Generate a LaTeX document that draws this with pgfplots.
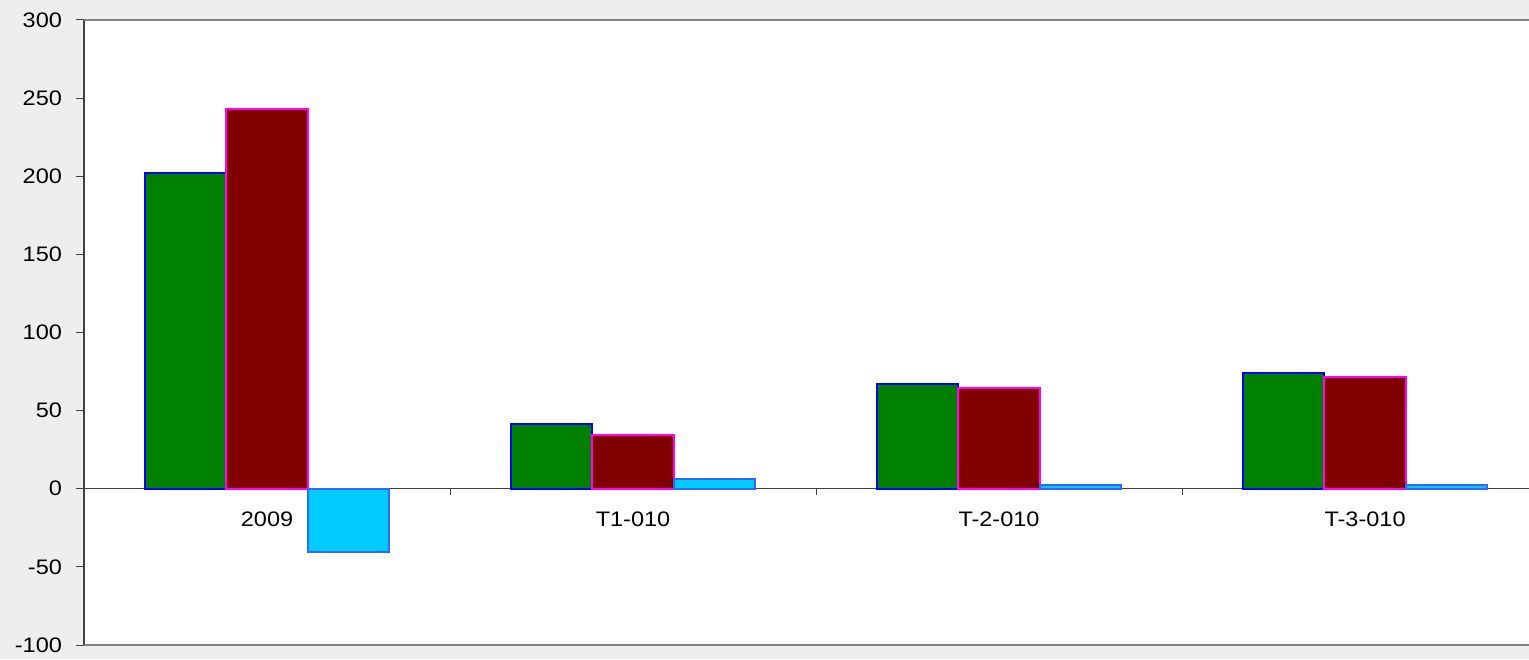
\documentclass[border=0pt]{standalone}
\usepackage{fontspec}
\setmainfont{Liberation Sans}[FakeStretch=1.12]
\usepackage{pgfplots}
\pgfplotsset{compat=1.18}
\definecolor{bg}{HTML}{EEEEEE}
\definecolor{cgreen}{HTML}{008000}
\definecolor{cred}{HTML}{800000}
\definecolor{ccyan}{HTML}{00CCFF}
\definecolor{ecyan}{HTML}{3366FF}
\definecolor{cmag}{HTML}{FF00FF}
\begin{document}
\begin{tikzpicture}[x=1pt,y=1pt]
\path[use as bounding box, fill=bg] (0,0) rectangle (764.5,329.5);
\begin{axis}[
  at={(42pt,7pt)}, anchor=south west,
  scale only axis, width=722.5pt, height=312.5pt,
  xmin=-0.5, xmax=3.448, ymin=-100, ymax=300,
  clip=false,
  axis x line=middle, axis y line=left, axis line style={-},
  x axis line style={black!75, line width=0.5pt},
  y axis line style={black!75, line width=0.8pt},
  axis background/.style={fill=white},
  hide obscured x ticks=false, hide obscured y ticks=false,
  ybar=0pt, bar width=0.222,
  xtick={0,1,2,3}, xticklabels={2009,T1-010,T-2-010,T-3-010},
  minor xtick={0.5,1.5,2.5},
  major x tick style={draw=none},
  minor x tick style={black!75, line width=0.5pt},
  y tick style={black!75, line width=0.5pt},
  tick align=outside,
  major tick length=4pt, minor tick length=3pt,
  ytick={-100,-50,0,50,100,150,200,250,300},
  tick label style={font=\fontsize{10.5}{12}\selectfont},
  yticklabel style={xshift=-3.5pt},
  xticklabel style={yshift=-4pt},
  /pgf/number format/assume math mode=true,
]
\addplot[fill=cgreen, draw=blue, line width=1pt] coordinates {(0,202) (1,41.5) (2,67) (3,73.8)};
\addplot[fill=cred, draw=cmag, line width=1pt] coordinates {(0,243) (1,34.6) (2,64.5) (3,71.7)};
\addplot[fill=ccyan, draw=ecyan, line width=1pt] coordinates {(0,-40.6) (1,6.4) (2,2.4) (3,2.2)};
\draw[gray, line width=1pt] (rel axis cs:0,1) -- (rel axis cs:1,1);
\draw[gray, line width=1pt] (rel axis cs:0,0) -- (rel axis cs:1,0);
\end{axis}
\end{tikzpicture}
\end{document}
